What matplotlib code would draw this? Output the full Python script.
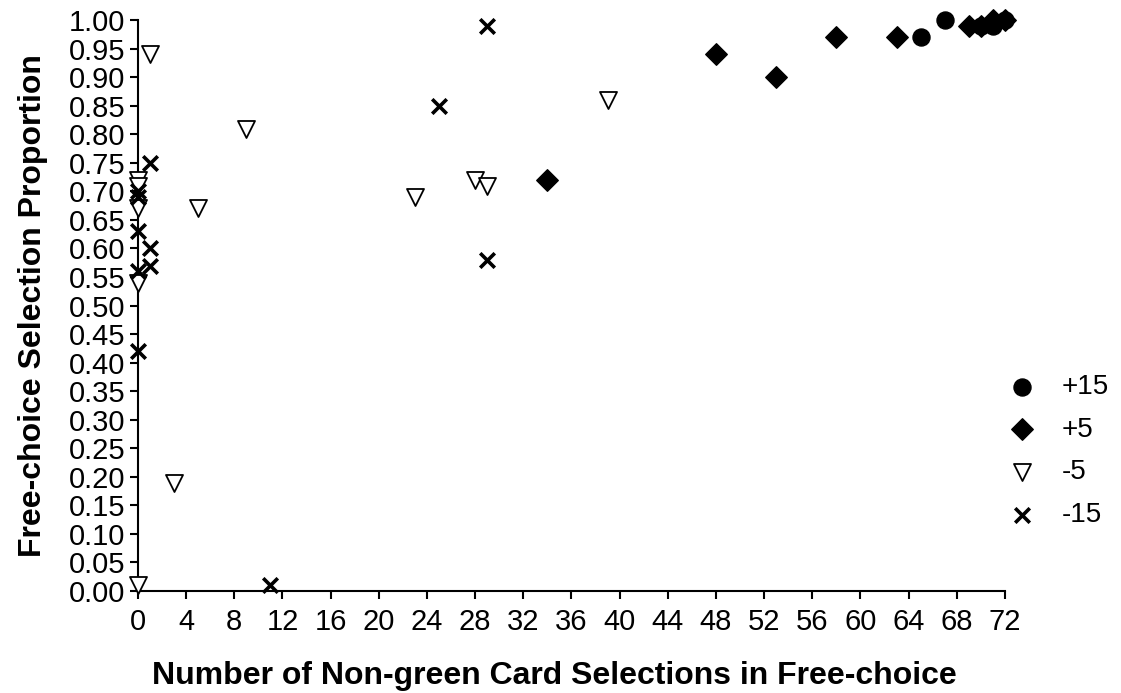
import numpy as np
import matplotlib.pyplot as plt

plt.rcParams['font.family'] = ['Liberation Sans', 'DejaVu Sans']

# +15
p15_x = [65, 67, 70, 71, 72]
p15_y = [0.97, 1.00, 0.99, 0.99, 1.00]
# +5
p5_x = [34, 48, 53, 58, 63, 69, 70, 71, 72]
p5_y = [0.72, 0.94, 0.90, 0.97, 0.97, 0.99, 0.99, 1.00, 1.00]
# -5
m5_x = [1, 9, 0, 0, 0, 5, 0, 3, 0, 23, 28, 29, 39]
m5_y = [0.94, 0.81, 0.72, 0.71, 0.67, 0.67, 0.54, 0.19, 0.01, 0.69, 0.72, 0.71, 0.86]
# -15
m15_x = [0, 0, 1, 0, 1, 1, 0, 0, 11, 25, 29, 29]
m15_y = [0.70, 0.69, 0.75, 0.63, 0.60, 0.57, 0.56, 0.42, 0.01, 0.85, 0.99, 0.58]

fig = plt.figure(figsize=(11.21, 6.93), dpi=100)
ax = fig.add_axes([0.1231, 0.1472, 0.7734, 0.8239])

ax.scatter(m5_x, m5_y, marker='v', s=150, facecolors='white', edgecolors='black',
           linewidths=1.3, clip_on=False, zorder=3, label='-5')
ax.scatter(m15_x, m15_y, marker='x', s=110, color='black', linewidths=2.6,
           clip_on=False, zorder=4, label='-15')
ax.scatter(p5_x, p5_y, marker='D', s=120, color='black', clip_on=False, zorder=5, label='+5')
ax.scatter(p15_x, p15_y, marker='o', s=150, color='black', clip_on=False, zorder=4, label='+15')

ax.set_xlim(0, 72)
ax.set_ylim(0, 1.0)
ax.set_xticks(np.arange(0, 73, 4))
ax.set_yticks(np.arange(0, 1.001, 0.05))
ax.set_yticklabels(['%.2f' % v for v in np.arange(0, 1.001, 0.05)])

for s in ['top', 'right']:
    ax.spines[s].set_visible(False)
for s in ['left', 'bottom']:
    ax.spines[s].set_linewidth(1.5)
ax.tick_params(axis='both', labelsize=21, width=1.5, length=6, direction='out')
ax.tick_params(axis='x', pad=6)
ax.tick_params(axis='y', pad=3)

ax.set_xlabel('Number of Non-green Card Selections in Free-choice', fontsize=23,
              fontweight='bold')
ax.xaxis.set_label_coords(0.48, -0.122)
ax.set_ylabel('Free-choice Selection Proportion', fontsize=23, fontweight='bold', labelpad=15)

h, l = ax.get_legend_handles_labels()
order = [3, 2, 0, 1]
ax.legend([h[i] for i in order], [l[i] for i in order], loc='center left',
          bbox_to_anchor=(1.0, 0.245), frameon=False, fontsize=20, labelspacing=0.6,
          handlelength=1.0, handletextpad=0.93, borderpad=0.1, borderaxespad=0.0)

plt.savefig('out.png', dpi=100)
